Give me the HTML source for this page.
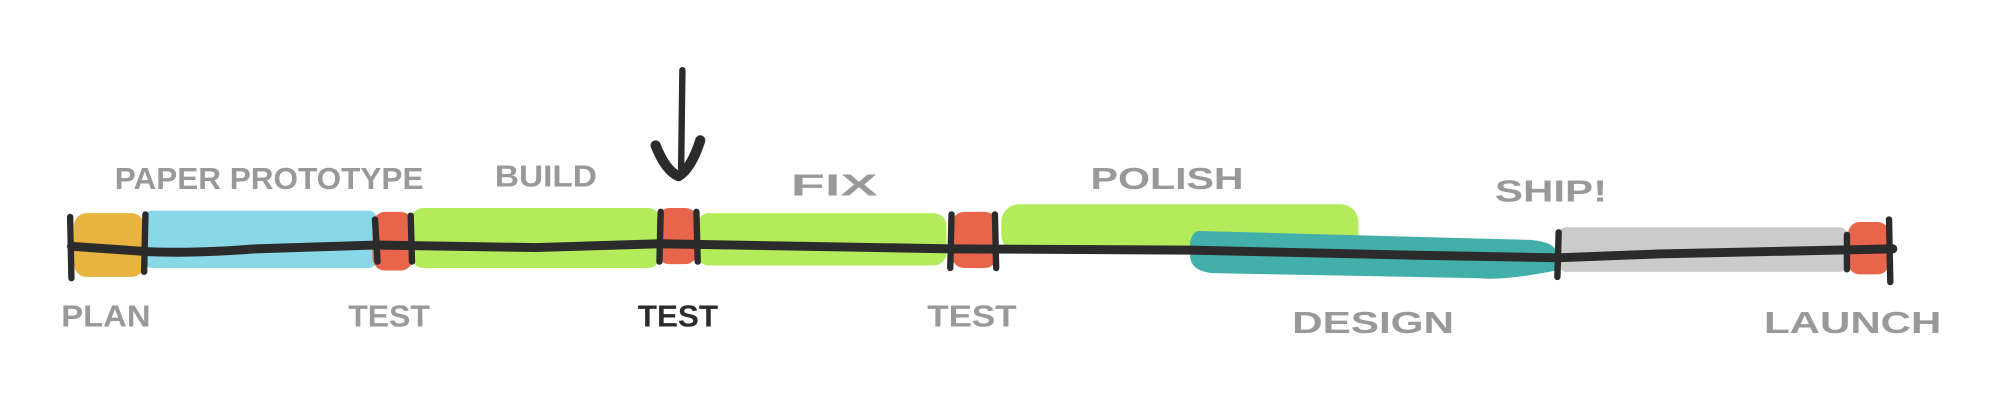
<!DOCTYPE html>
<html><head><style>html,body{margin:0;padding:0;background:#fff}svg{display:block}</style></head>
<body>
<svg width="2000" height="402" viewBox="0 0 1568 315" preserveAspectRatio="none" xmlns="http://www.w3.org/2000/svg">
<g stroke-linejoin="round">
<rect x="58" y="167" width="55" height="50" rx="10" fill="#E8B33F"/>
<rect x="113" y="165" width="182" height="45" rx="6" fill="#88D8E8"/>
<rect x="322" y="163" width="196" height="47" rx="10" fill="#B4EB5A"/>
<rect x="546" y="167" width="196" height="41" rx="10" fill="#B4EB5A"/>
<rect x="785" y="160" width="280" height="38" rx="14" fill="#B4EB5A"/>
<path d="M940 181 L1200 188 Q1220 190 1220 198 L1220 212 Q1180 220 1160 218 L950 214 Q933 212 933 200 L933 190 Q935 181 940 181Z" fill="#43AFAA"/>
<rect x="1222" y="178" width="226" height="35" rx="6" fill="#CBCBCB"/>
<rect x="292" y="166" width="32" height="46" rx="10" fill="#E8644A"/>
<rect x="515" y="163" width="32" height="44" rx="10" fill="#E8644A"/>
<rect x="746" y="166" width="36" height="44" rx="10" fill="#E8644A"/>
<rect x="1449" y="174" width="32" height="41" rx="9" fill="#E8644A"/>
<path d="M56 193 L113 197 Q150 199 200 195 L294 192 L420 194 L517 191 L746 195 L933 196 L1110 200 L1221 202 L1300 199 L1484 195" fill="none" stroke="#2B2B2B" stroke-width="7" stroke-linecap="round"/>
<g stroke="#2B2B2B" stroke-width="5" stroke-linecap="round" fill="none">
<path d="M55 170 L56 218"/><path d="M114 168 L113 213"/>
<path d="M294 172 L296 205"/><path d="M322 169 L323 205"/>
<path d="M518 166 L517 205"/><path d="M546 166 L547 205"/>
<path d="M746 168 L745 210"/><path d="M780 168 L781 210"/>
<path d="M1222 182 L1221 217"/><path d="M1448 184 L1448 211"/>
<path d="M1481 172 L1482 221"/>
<path d="M535 55 L534 132"/>
</g>
<path d="M514 114 Q522 134 532 138 Q542 132 549 110" fill="none" stroke="#2B2B2B" stroke-width="8" stroke-linecap="round"/>
</g>
<g font-family="Liberation Sans Narrow, Liberation Sans, sans-serif" font-weight="bold" fill="#999" font-size="24">
<text x="90" y="148" textLength="242" lengthAdjust="spacingAndGlyphs">PAPER PROTOTYPE</text>
<text x="388" y="146" textLength="80" lengthAdjust="spacingAndGlyphs">BUILD</text>
<text x="620" y="153" textLength="68" lengthAdjust="spacingAndGlyphs">FIX</text>
<text x="855" y="148" textLength="120" lengthAdjust="spacingAndGlyphs">POLISH</text>
<text x="1172" y="158" textLength="88" lengthAdjust="spacingAndGlyphs">SHIP!</text>
<text x="48" y="256" textLength="70" lengthAdjust="spacingAndGlyphs">PLAN</text>
<text x="273" y="256" textLength="64" lengthAdjust="spacingAndGlyphs">TEST</text>
<text x="500" y="256" textLength="63" lengthAdjust="spacingAndGlyphs" fill="#2B2B2B">TEST</text>
<text x="727" y="256" textLength="70" lengthAdjust="spacingAndGlyphs">TEST</text>
<text x="1013" y="261" textLength="127" lengthAdjust="spacingAndGlyphs">DESIGN</text>
<text x="1383" y="261" textLength="139" lengthAdjust="spacingAndGlyphs">LAUNCH</text>
</g>
</svg>
</body></html>
